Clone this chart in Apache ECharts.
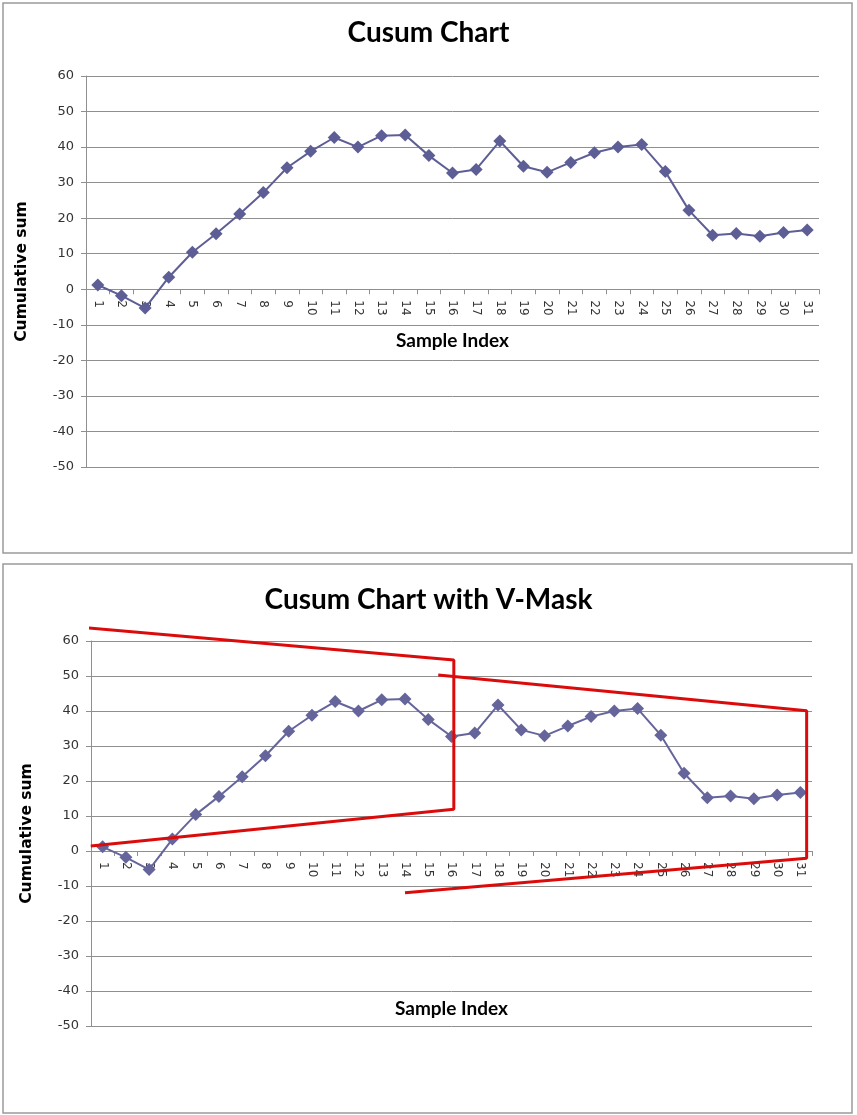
<!DOCTYPE html>
<html>
<head>
<meta charset="utf-8">
<script src="https://cdn.jsdelivr.net/npm/echarts@6/dist/echarts.min.js"></script>
<style>
html,body{margin:0;padding:0;background:#fff;}
#c{width:857px;height:1115px;}
</style>
</head>
<body>
<div id="c"></div>
<script>
// ---- data ----
var categories = ['1','2','3','4','5','6','7','8','9','10','11','12','13','14','15','16','17','18','19','20','21','22','23','24','25','26','27','28','29','30','31'];
var cusum = [1.2, -1.8, -5.3, 3.4, 10.4, 15.6, 21.2, 27.2, 34.2, 38.8, 42.7, 40.0, 43.2, 43.4, 37.6, 32.7, 33.7, 41.7, 34.6, 32.9, 35.7, 38.4, 40.0, 40.7, 33.1, 22.2, 15.2, 15.7, 14.9, 16.0, 16.7];
var yTicks = [-50, -40, -30, -20, -10, 0, 10, 20, 30, 40, 50, 60];
// V-mask polylines: sample position (x) and cusum level (y)
var maskOneX = [0.24, 16.1, 16.1, 0.49];
var maskOneY = [63.8, 54.6, 11.9, 1.4];
var maskTwoX = [15.43, 31.27, 31.27, 14.0];
var maskTwoY = [50.3, 40.1, -2.1, -11.9];

function pairs(xs, ys){ var out=[]; for (var i=0;i<xs.length;i++) out.push([xs[i], ys[i]]); return out; }

var yMin = yTicks[0], yMax = yTicks[yTicks.length - 1];
var gridColor = '#8f8f8f';
var labelFont = 'DejaVu Sans';
var boldFont = 'Lato';
var lineColor = '#5e5e96';

var grids = [
  {left: 86, right: 38, top: 76, height: 391},
  {left: 91, right: 45, top: 641, height: 385}
];
function zeroOffset(g){ return -g.height * (0 - yMin) / (yMax - yMin); }

function catAxis(gridIndex, nameGap){
  return {
    type: 'category', gridIndex: gridIndex, data: categories, boundaryGap: true,
    position: 'bottom', offset: zeroOffset(grids[gridIndex]),
    name: 'Sample Index', nameLocation: 'middle', nameGap: nameGap,
    nameTextStyle: {fontFamily: boldFont, fontWeight: 'bold', fontSize: 19, color: '#000'},
    axisLine: {show: true, onZero: false, lineStyle: {color: gridColor, width: 1}},
    axisTick: {show: true, alignWithLabel: false, length: 5, lineStyle: {color: gridColor}},
    axisLabel: {rotate: -90, margin: 11, fontFamily: labelFont, fontSize: 12, color: '#333', interval: 0},
    splitLine: {show: false}
  };
}
function valAxis(gridIndex){
  return {
    type: 'value', gridIndex: gridIndex, min: yMin, max: yMax, interval: 10,
    name: 'Cumulative sum', nameLocation: 'middle', nameRotate: 90, nameGap: 56,
    nameTextStyle: {fontFamily: labelFont, fontWeight: 'bold', fontSize: 15.5, color: '#000'},
    axisLine: {show: true, onZero: false, lineStyle: {color: gridColor, width: 1}},
    axisTick: {show: true, length: 5, lineStyle: {color: gridColor}},
    axisLabel: {margin: 12, fontFamily: labelFont, fontSize: 13, color: '#333'},
    splitLine: {show: true, lineStyle: {color: gridColor, width: 1}}
  };
}

var chart = echarts.init(document.getElementById('c'), null, {renderer: 'canvas'});
chart.setOption({
  animation: false,
  backgroundColor: '#fff',
  graphic: [
    {type: 'rect', shape: {x: 3, y: 3, width: 849, height: 550}, style: {fill: 'none', stroke: '#9a9a9a', lineWidth: 1.5}, z: -1},
    {type: 'rect', shape: {x: 3, y: 564, width: 849, height: 549}, style: {fill: 'none', stroke: '#9a9a9a', lineWidth: 1.5}, z: -1}
  ],
  title: [
    {text: 'Cusum Chart', left: 'center', top: 19, padding: 0,
     textStyle: {fontFamily: boldFont, fontWeight: 'bold', fontSize: 28, color: '#000'}},
    {text: 'Cusum Chart with V-Mask', left: 'center', top: 586, padding: 0,
     textStyle: {fontFamily: boldFont, fontWeight: 'bold', fontSize: 28, color: '#000'}}
  ],
  grid: grids.map(function(g){ return Object.assign({containLabel: false, outerBoundsMode: 'none'}, g); }),
  xAxis: [
    catAxis(0, 42),
    catAxis(1, 148),
    {type: 'value', gridIndex: 1, min: 0.5, max: 31.5, show: false, position: 'top',
     axisLine: {onZero: false}, splitLine: {show: false}}
  ],
  yAxis: [valAxis(0), valAxis(1)],
  series: [
    {type: 'line', xAxisIndex: 0, yAxisIndex: 0, data: cusum, symbol: 'diamond', symbolSize: 13,
     lineStyle: {color: lineColor, width: 2}, itemStyle: {color: lineColor}},
    {type: 'line', xAxisIndex: 1, yAxisIndex: 1, data: cusum, symbol: 'diamond', symbolSize: 13,
     lineStyle: {color: '#65659c', width: 2}, itemStyle: {color: '#65659c'}},
    {type: 'line', xAxisIndex: 2, yAxisIndex: 1, data: pairs(maskOneX, maskOneY), symbol: 'none', clip: false,
     lineStyle: {color: '#dc0b0b', width: 3}, z: 5},
    {type: 'line', xAxisIndex: 2, yAxisIndex: 1, data: pairs(maskTwoX, maskTwoY), symbol: 'none', clip: false,
     lineStyle: {color: '#dc0b0b', width: 3}, z: 5}
  ]
});
</script>
</body>
</html>
